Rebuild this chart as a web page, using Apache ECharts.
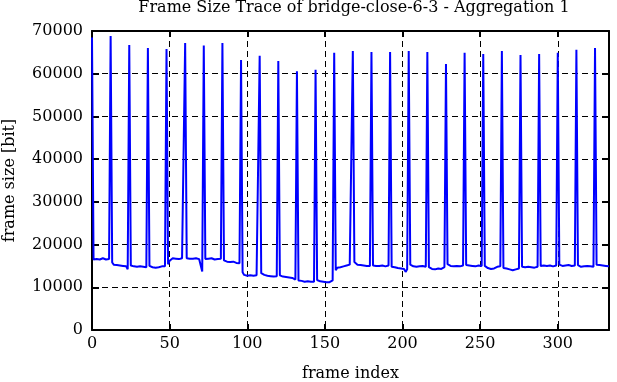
<!DOCTYPE html>
<html>
<head>
<meta charset="utf-8">
<script src="https://cdn.jsdelivr.net/npm/echarts@6/dist/echarts.min.js"></script>
<style>
html,body{margin:0;padding:0;background:#fff;}
#chart{width:617px;height:382px;}
</style>
</head>
<body>
<div id="chart"></div>
<script>
// I-frame sizes (every 12th frame: 0, 12, 24, ... 324)
var iFrameSizes = [68500, 68800, 66700, 66000, 65800, 67200, 66600, 67200, 63200, 64200,
  63000, 60600, 60900, 64900, 65300, 65100, 65100, 65300, 65100, 62300,
  64900, 64600, 65300, 64400, 64600, 64900, 65600, 66000];

// Sizes of the frames between consecutive I-frames (one row per GOP), last row = tail
var otherFrameSizes = [
  [16500,16800,16600,16700,16500,16700,16800,16600,16500,16700,16600],
  [15800,15300,15000,15200,14900,15100,14800,15000,15200,14900,14200],
  [15100,14800,14900,14700,14800,14600,14900,14700,14800,14600,14700],
  [15000,14800,14700,14900,14600,14300,14700,14800,14900,14700,14900],
  [15400,16200,16600,16800,16500,16700,16900,16600,16700,16800,16700],
  [16800,16600,16700,16500,16700,16600,16800,16700,16600,16400,13700],
  [16600,16800,16700,16600,16800,16700,16500,16700,16600,16800,16700],
  [16300,16200,16000,16100,15900,15800,16000,15800,15700,15900,15600],
  [13500,12900,12600,12700,12500,12800,12900,12700,13000,12800,13100],
  [13300,13100,12900,13000,12700,12900,12600,12800,12500,12700,12600],
  [12800,12600,12500,12700,12400,12500,12300,12400,12200,12100,11800],
  [11600,11400,11500,11200,11300,11100,11400,11200,11300,11500,11300],
  [11700,11500,11400,11600,11300,11500,11200,11300,11200,11400,11600],
  [14000,14600,14800,14700,15000,14900,15200,15100,15400,15300,15500],
  [15900,15500,15300,15100,15200,15000,15100,14900,15000,15100,15000],
  [15100,14900,15000,14800,15000,14900,15100,15000,14900,15000,15100],
  [14800,14600,14700,14300,14500,14200,14400,14000,14300,13600,14200],
  [15300,15000,14900,15100,14800,15000,14900,15100,15000,14900,14800],
  [14700,14500,14300,14600,14200,14500,14400,14600,14300,14500,14700],
  [15400,15200,15000,15100,14900,15200,15000,15100,14900,15300,15100],
  [15200,15000,15100,14900,15000,15200,14900,15000,15100,14900,15000],
  [15000,14700,14500,14800,14300,14600,14400,14700,14800,14600,14900],
  [14500,14300,14400,14100,14200,13900,14000,14100,14200,14300,14400],
  [14800,14600,14700,14500,14800,14600,14700,14500,14600,14700,14800],
  [15000,14900,15100,14800,15000,14900,15100,15000,14900,15000,15100],
  [15300,15100,15000,15200,15100,14900,15200,15100,15000,15200,15100],
  [15200,15000,14800,15100,14900,14700,15000,14800,14900,14600,14800],
  [15300,15100,15200,15000,15100,14900,15000,14800,14900]
];

var xTicks = [0, 50, 100, 150, 200, 250, 300];
var yTicks = [0, 10000, 20000, 30000, 40000, 50000, 60000, 70000];
var titleText = 'Frame Size Trace of bridge-close-6-3 - Aggregation 1';
var xName = 'frame index';
var yName = 'frame size [bit]';

// assemble the trace in frame order
var frameSizes = [];
for (var g = 0; g < iFrameSizes.length; g++) {
  frameSizes.push(iFrameSizes[g]);
  otherFrameSizes[g].forEach(function (v) { frameSizes.push(v); });
}
var seriesData = frameSizes.map(function (v, i) { return [i, v]; });
var xMax = frameSizes.length - 1;

var FONT = 'DejaVu Serif';
var chart = echarts.init(document.getElementById('chart'), null, {renderer: 'canvas'});
var axisLine = {show: true, onZero: false, lineStyle: {color: '#000', width: 2}};
var dashed = {show: true, lineStyle: {color: '#000', width: 1, type: [6, 4]}};

chart.setOption({
  animation: false,
  backgroundColor: '#fff',
  title: {
    text: titleText,
    left: 354, top: 0, textAlign: 'center', padding: 0,
    textStyle: {fontFamily: FONT, fontSize: 16, fontWeight: 'normal', color: '#000'}
  },
  grid: {left: 92, right: 8, top: 31, bottom: 52, containLabel: false, outerBoundsMode: 'none'},
  xAxis: [{
    type: 'value', min: 0, max: xMax, interval: 50, position: 'bottom',
    name: xName, nameLocation: 'middle', nameGap: 36,
    nameTextStyle: {fontFamily: FONT, fontSize: 16, color: '#000'},
    axisLine: axisLine,
    axisTick: {show: true, inside: true, length: 6, lineStyle: {color: '#000', width: 2}},
    axisLabel: {margin: 6, fontFamily: FONT, fontSize: 16, color: '#000', showMaxLabel: false,
      formatter: function (v) { return xTicks.indexOf(v) >= 0 ? String(v) : ''; }},
    splitLine: dashed
  }, {
    type: 'value', min: 0, max: xMax, interval: 50, position: 'top',
    axisLine: axisLine,
    axisTick: {show: true, inside: true, length: 6, lineStyle: {color: '#000', width: 2}},
    axisLabel: {show: false}, splitLine: {show: false}
  }],
  yAxis: [{
    type: 'value', min: 0, max: 70000, interval: 10000, position: 'left',
    name: yName, nameLocation: 'middle', nameGap: 74, nameRotate: 90,
    nameTextStyle: {fontFamily: FONT, fontSize: 16, color: '#000'},
    axisLine: axisLine,
    axisTick: {show: true, inside: true, length: 7, lineStyle: {color: '#000', width: 2}},
    axisLabel: {margin: 9, fontFamily: FONT, fontSize: 16, color: '#000',
      formatter: function (v) { return yTicks.indexOf(v) >= 0 ? String(v) : ''; }},
    splitLine: dashed
  }, {
    type: 'value', min: 0, max: 70000, interval: 10000, position: 'right',
    axisLine: axisLine,
    axisTick: {show: true, inside: true, length: 7, lineStyle: {color: '#000', width: 2}},
    axisLabel: {show: false}, splitLine: {show: false}
  }],
  series: [{
    type: 'line', xAxisIndex: 0, yAxisIndex: 0,
    data: seriesData, showSymbol: false, symbol: 'none',
    lineStyle: {color: '#0000ff', width: 2},
    z: 3
  }]
});
</script>
</body>
</html>
